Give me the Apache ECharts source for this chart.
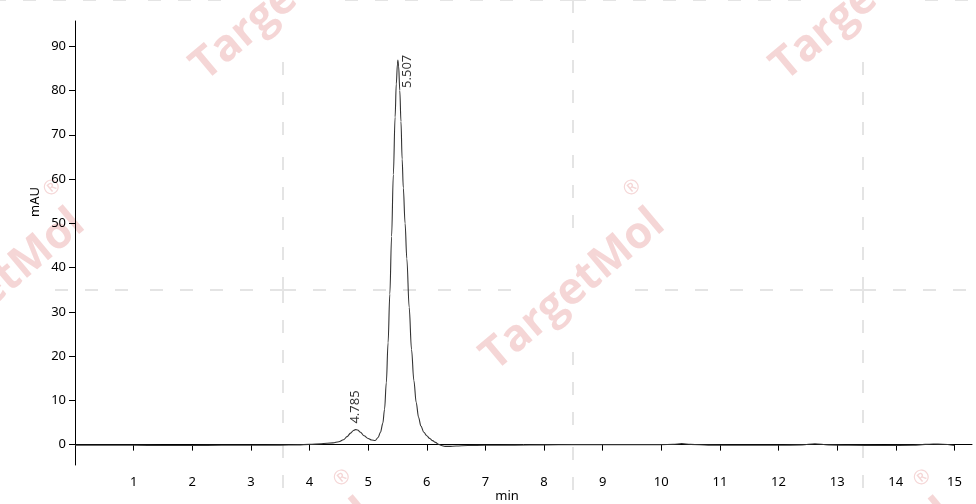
<!DOCTYPE html>
<html>
<head>
<meta charset="utf-8">
<script src="https://cdn.jsdelivr.net/npm/echarts@6/dist/echarts.min.js"></script>
<style>html,body{margin:0;padding:0;background:#fff}#c{width:976px;height:504px}</style>
</head>
<body>
<div id="c"></div>
<script>
// Retention time (min)
var time = [0, 0.5, 1.0, 1.5, 2.0, 2.5, 3.0, 3.5, 3.8, 4.0, 4.2, 4.4, 4.5, 4.58, 4.64, 4.7, 4.75, 4.785, 4.82, 4.87, 4.93, 5.0, 5.06,
  5.12, 5.17, 5.21, 5.25, 5.28, 5.31, 5.34, 5.37, 5.40, 5.43, 5.46, 5.48, 5.50, 5.507, 5.52, 5.54, 5.56, 5.58, 5.60, 5.63, 5.66,
  5.70, 5.74, 5.78, 5.82, 5.86, 5.90, 5.95, 6.00, 6.05, 6.10, 6.15, 6.20, 6.25, 6.31, 6.38, 6.5, 6.7, 7.0, 7.5, 8.0, 8.5, 9.0,
  9.5, 10.0, 10.2, 10.35, 10.5, 10.8, 11.5, 12.0, 12.4, 12.62, 12.85, 13.2, 13.8, 14.3, 14.5, 14.64, 14.8, 15.0];
// Absorbance (mAU)
var absorbance = [-0.15, -0.15, -0.15, -0.2, -0.18, -0.15, -0.15, -0.1, -0.05, 0.05, 0.2, 0.4, 0.65, 1.1, 1.8, 2.6, 3.2, 3.4, 3.3, 2.8, 2.0, 1.4, 1.05,
  0.95, 1.6, 2.8, 4.8, 8, 14, 23, 34, 47, 61, 74, 81.5, 86, 86.9, 85.5, 80, 73, 64.5, 58, 50, 42,
  31, 21.5, 14.5, 9.5, 6.2, 4.2, 2.8, 2.0, 1.4, 0.9, 0.5, 0.1, -0.2, -0.4, -0.4, -0.3, -0.2, -0.15, -0.1, -0.05, 0, 0,
  0, 0, 0.05, 0.25, 0.05, -0.1, -0.15, -0.15, -0.05, 0.2, -0.05, -0.15, -0.2, -0.15, 0.05, 0.15, 0.1, -0.2];
// Peak annotations
var peakTimes = [4.785, 5.507];
var peakHeights = [3.4, 86.9];
var peakLabels = ['4.785', '5.507'];
// Tick labels
var xTicks = [1, 2, 3, 4, 5, 6, 7, 8, 9, 10, 11, 12, 13, 14, 15];
var yTicks = [0, 10, 20, 30, 40, 50, 60, 70, 80, 90];

var FONT = '"Noto Sans", sans-serif';
var TXT = '#000';

var lineData = time.map(function (t, i) { return [t, absorbance[i]]; });
var labelPos = [[0, -6], [9, 28]];
var peakData = peakTimes.map(function (t, i) {
  return {
    value: [t, peakHeights[i]],
    label: { show: true, formatter: peakLabels[i], position: labelPos[i], rotate: 90,
      align: 'left', verticalAlign: 'middle', fontSize: 13, fontFamily: FONT, color: TXT }
  };
});

// watermark lattice
var graphics = [];
var wmCenters = [[283, 0], [863, 0], [573, 290], [-7, 290], [283, 580], [863, 580]];
var vLines = [-7, 283, 573, 863];
var hLines = [0, 290, 580];
var GAP = 62;
var dashStyle = { stroke: '#e4e4e4', lineWidth: 2, lineDash: [13, 17] };
function seg(x1, y1, x2, y2) {
  graphics.push({ type: 'line', z: -10, silent: true, shape: { x1: x1, y1: y1, x2: x2, y2: y2 }, style: dashStyle });
}
vLines.forEach(function (x) {
  hLines.concat([-290]).forEach(function (y) {
    var hasWm = wmCenters.some(function (c) { return c[0] === x && c[1] === y; });
    var g = hasWm ? GAP : 0;
    seg(x, y + g, x, y + 145);
    seg(x, y - g, x, y - 145);
  });
});
hLines.forEach(function (y) {
  vLines.concat([1153]).forEach(function (x) {
    var hasWm = wmCenters.some(function (c) { return c[0] === x && c[1] === y; });
    var g = hasWm ? GAP : 0;
    seg(x + g, y, x + 145, y);
    seg(x - g, y, x - 145, y);
  });
});
wmCenters.forEach(function (c) {
  graphics.push({
    type: 'group', x: c[0], y: c[1], rotation: 40 * Math.PI / 180, z: -9, silent: true,
    children: [
      { type: 'text', z: -9, style: { text: 'TargetMol', x: 0, y: 0, align: 'center', verticalAlign: 'middle',
        font: 'bold 44px "Open Sans", sans-serif', fill: '#f5d6d6' } },
      { type: 'text', z: -9, style: { text: '\u00AE', x: 111, y: -40, align: 'center', verticalAlign: 'middle',
        font: '20px "Open Sans", sans-serif', fill: '#f5d6d6' } }
    ]
  });
});
graphics.push({ type: 'text', x: 35, y: 202, rotation: Math.PI / 2, z: 10,
  style: { text: 'mAU', align: 'center', verticalAlign: 'middle', font: '13px ' + FONT, fill: TXT } });
graphics.push({ type: 'text', x: 507, y: 496, z: 10,
  style: { text: 'min', align: 'center', verticalAlign: 'middle', font: '13px ' + FONT, fill: TXT } });

var chart = echarts.init(document.getElementById('c'), null, { renderer: 'canvas' });
chart.setOption({
  animation: false,
  backgroundColor: '#fff',
  grid: { left: 75, right: 4, top: 21, bottom: 39, containLabel: false },
  xAxis: {
    type: 'value', min: 0, max: 15.3,
    axisLine: { show: true, lineStyle: { color: '#000', width: 1 } },
    axisTick: { show: true, length: 6, lineStyle: { color: '#000' }, customValues: xTicks },
    axisLabel: { show: true, margin: 11, fontSize: 13, fontFamily: FONT, color: TXT, customValues: xTicks },
    splitLine: { show: false }
  },
  yAxis: {
    type: 'value', min: -4.6, max: 95.7,
    axisLine: { show: true, lineStyle: { color: '#000', width: 1 } },
    axisTick: { show: true, length: 6, lineStyle: { color: '#000' }, customValues: yTicks },
    axisLabel: { show: true, margin: 9, fontSize: 13, fontFamily: FONT, color: TXT, customValues: yTicks },
    splitLine: { show: false }
  },
  graphic: graphics,
  series: [
    { type: 'line', data: lineData, showSymbol: false, smooth: 0.35, smoothMonotone: 'x',
      lineStyle: { color: '#333', width: 1.1 }, z: 3 },
    { type: 'scatter', data: peakData, symbolSize: 0, z: 4, silent: true }
  ]
});
</script>
</body>
</html>
